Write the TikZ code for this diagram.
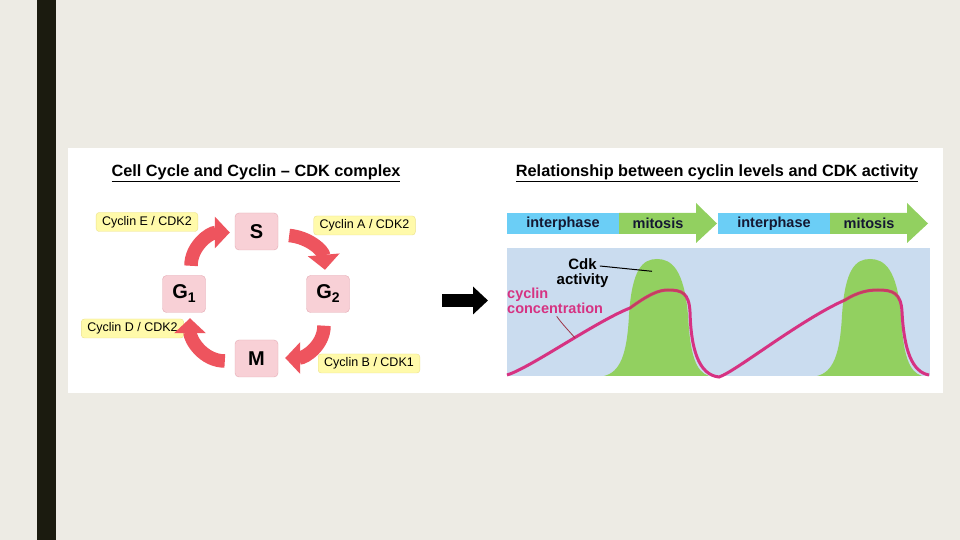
\documentclass[tikz,border=0pt]{standalone}
\usepackage{fontspec}
\setmainfont{Liberation Sans}
\usepackage{tikz}
\usetikzlibrary{arrows.meta, positioning, calc}

\definecolor{slidebg}{RGB}{237,235,228}
\definecolor{barblack}{RGB}{27,27,15}
\definecolor{phasepink}{RGB}{248,208,214}
\definecolor{phaseedge}{RGB}{228,170,180}
\definecolor{cycyellow}{RGB}{255,250,170}
\definecolor{cycedge}{RGB}{236,226,140}
\definecolor{cyclered}{RGB}{238,84,94}
\definecolor{interblue}{RGB}{107,206,246}
\definecolor{mitgreen}{RGB}{146,208,96}
\definecolor{plotblue}{RGB}{202,220,239}
\definecolor{cyclinmag}{RGB}{214,50,130}
\definecolor{cyclinred}{RGB}{196,66,90}
\definecolor{textnavy}{RGB}{20,24,50}

% one green bump of cdk activity, shifted by #1
\newcommand{\cdkbump}[1]{(604+#1,164) .. controls (620+#1,168) and (627+#1,185) .. (629+#1,225)
  .. controls (632+#1,270) and (642+#1,281) .. (657+#1,281)
  .. controls (672+#1,281) and (684+#1,270) .. (688+#1,225)
  .. controls (690+#1,185) and (696+#1,168) .. (709+#1,164) -- cycle}
% cyclin concentration
\newcommand{\cyclincurve}{(507,165) .. controls (530,172) and (595,218) .. (630,232)
  .. controls (648,245) and (658,250) .. (668,250)
  .. controls (682,250) and (689,247) .. (690,228)
  .. controls (691,190) and (699,165) .. (719,163)
  .. controls (735,168) and (800,220) .. (845,240)
  .. controls (858,248) and (868,250) .. (878,250)
  .. controls (893,250) and (901,247) .. (902,228)
  .. controls (904,190) and (912,168) .. (929,165)}

\begin{document}
\begin{tikzpicture}[x=1pt, y=1pt,
    phasebox/.style={rectangle, rounded corners=4pt, draw=phaseedge, fill=phasepink,
      minimum width=43pt, minimum height=37pt, inner sep=0pt,
      font=\fontsize{20}{20}\selectfont\bfseries},
    cycbox/.style={rectangle, rounded corners=3pt, draw=cycedge, fill=cycyellow,
      minimum height=19pt, inner xsep=6pt, inner ysep=0pt,
      font=\fontsize{12.5}{12.5}\selectfont},
    turn/.style={line width=13.5pt, draw=cyclered, -{Triangle[length=15pt, width=31pt]}},
    heading/.style={font=\fontsize{16.3}{16.3}\selectfont\bfseries},
    bartext/.style={font=\fontsize{14.5}{14.5}\selectfont\bfseries, text=textnavy},
    >=Stealth
  ]
  \useasboundingbox (0,0) rectangle (960,540);
  \fill[slidebg] (0,0) rectangle (960,540);
  \fill[barblack] (37,0) rectangle (56,540);
  \fill[white] (68,147) rectangle (943,392);

  % left: the cycle
  \node[heading] (lefttitle) at (256,367) {\underline{Cell Cycle and Cyclin – CDK complex}};

  \node[phasebox] (s) at (256.5,308.5) {S};
  \node[phasebox] (gone) at (184,246) {G\raisebox{-4pt}{\fontsize{14}{14}\selectfont 1}};
  \node[phasebox] (gtwo) at (328,246) {G\raisebox{-4pt}{\fontsize{14}{14}\selectfont 2}};
  \node[phasebox] (m) at (256.5,181.5) {M};

  \node[cycbox] (cyce) at (147,318) {Cyclin E / CDK2};
  \node[cycbox] (cyca) at (364.5,314.5) {Cyclin A / CDK2};
  \node[cycbox] (cycd) at (132.5,211.5) {Cyclin D / CDK2};
  \node[cycbox] (cycb) at (369,176.5) {Cyclin B / CDK1};

  \draw[turn] ([shift={(7,9.5)}]gone.north) to[out=90, in=180] ([shift={(-5,-1)}]s.west);
  \draw[turn] ([shift={(11,-4)}]s.east) to[out=-5, in=95] ([shift={(-3,5.5)}]gtwo.north);
  \draw[turn] ([shift={(-4,-13)}]gtwo.south) to[out=-90, in=0] ([shift={(7,0.5)}]m.east);
  \draw[turn] ([shift={(-10,-2.5)}]m.west) to[out=180, in=-90] ([shift={(6,-5.5)}]gone.south);

  % middle arrow
  \coordinate (arrtail) at (442,239.5);
  \coordinate (arrhead) at (488,239.5);
  \draw[line width=13pt, -{Triangle[length=15pt, width=27pt]}] (arrtail) -- (arrhead);

  % right: cyclin levels
  \node[heading] (righttitle) at (717,367) {\underline{Relationship between cyclin levels and CDK activity}};

  \foreach \dx/\n in {0/a, 211/b} {
    \fill[interblue] (507+\dx,306) rectangle (619+\dx,327);
    \fill[mitgreen] (619+\dx,306) -- (696+\dx,306) -- (696+\dx,297) -- (717+\dx,316.5)
      -- (696+\dx,337) -- (696+\dx,327) -- (619+\dx,327) -- cycle;
    \node[bartext] (inter\n) at (563+\dx,316.5) {interphase};
    \node[bartext] (mit\n) at (658+\dx,316.5) {mitosis};
  }

  \fill[plotblue] (507,164) rectangle (930,292);
  \fill[mitgreen] \cdkbump{0} \cdkbump{213};
  \draw[cyclinmag, line width=3pt] \cyclincurve;
  \begin{scope}
    \clip \cdkbump{0} \cdkbump{213};
    \draw[cyclinred, line width=1.8pt] \cyclincurve;
  \end{scope}

  \node[font=\fontsize{15}{14.5}\selectfont\bfseries, align=center] (cdklabel) at (582.5,267) {Cdk\\activity};
  \coordinate (cdktip) at (652,268.7);
  \draw[line width=1pt] ([shift={(-12,7)}]cdklabel.east) -- (cdktip);

  \node[font=\fontsize{14.5}{14.5}\selectfont\bfseries, text=cyclinmag, align=left, anchor=west, inner sep=0pt]
    (cyclinlabel) at (507,239) {cyclin\\concentration};
  \coordinate (cyclintip) at (575,202);
  \draw[cyclinred!80!black, line width=0.8pt] (556.7,223.7) .. controls (562,216) and (570,208) .. (cyclintip);
\end{tikzpicture}
\end{document}
